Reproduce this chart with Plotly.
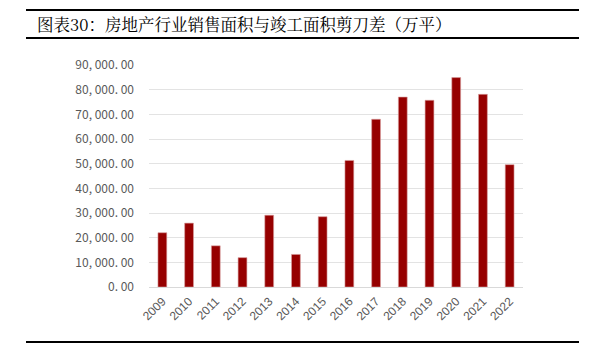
import plotly.graph_objects as go

years = ["2009", "2010", "2011", "2012", "2013", "2014", "2015",
         "2016", "2017", "2018", "2019", "2020", "2021", "2022"]
gap_values = [22000, 25900, 16700, 11900, 29100, 13200, 28500,
              51300, 68000, 77000, 75700, 84900, 78100, 49600]
y_tick_vals = [0, 10000, 20000, 30000, 40000, 50000, 60000, 70000, 80000, 90000]
y_tick_text = ["0. 00", "10, 000. 00", "20, 000. 00", "30, 000. 00", "40, 000. 00",
               "50, 000. 00", "60, 000. 00", "70, 000. 00", "80, 000. 00", "90, 000. 00"]
title_text = "图表30：房地产行业销售面积与竣工面积剪刀差（万平）"

# page body has an 8px default margin; work in window pixels and offset
OFF = 8
W, H = 599 - OFF, 357 - OFF
L, R, T, B = 149 - OFF, 599 - 523, 65 - OFF, 357 - 287
pw, ph = W - L - R, H - T - B

def px_x(x):
    return (x - OFF - L) / pw

def px_y(y):
    return (H - B - (y - OFF)) / ph

fig = go.Figure()
fig.add_trace(go.Bar(
    x=years, y=gap_values,
    marker=dict(color="#960000", line=dict(color="#d9a0a0", width=0.6)),
    width=0.33,
))

line_style = dict(color="#000000", width=2)
for yp in (10, 38, 342):
    fig.add_shape(type="line", xref="paper", yref="paper",
                  x0=px_x(26), x1=px_x(579), y0=px_y(yp), y1=px_y(yp),
                  line=line_style)

fig.add_annotation(
    text=title_text, xref="paper", yref="paper",
    x=px_x(35), y=px_y(24), xanchor="left", yanchor="middle",
    showarrow=False,
    font=dict(family="Noto Serif CJK SC, Noto Sans CJK SC, serif", size=16.5, color="#000000"),
)

fig.update_layout(
    width=W, height=H,
    margin=dict(l=L, r=R, t=T, b=B, autoexpand=False),
    paper_bgcolor="white", plot_bgcolor="white",
    showlegend=False,
    bargap=0.67,
    font=dict(family="Noto Sans CJK SC, DejaVu Sans, sans-serif", color="#595959"),
)
fig.update_xaxes(
    type="category", tickangle=-45,
    tickfont=dict(family="Liberation Sans, Arial, sans-serif", size=12, color="#595959"),
    showgrid=False, showline=False, ticks="", ticklen=0, automargin=False,
    ticklabelstandoff=4,
)
fig.update_yaxes(
    range=[0, 90000], tickvals=y_tick_vals, ticktext=y_tick_text,
    tickfont=dict(size=12, color="#595959"),
    showgrid=True, gridcolor="#e3e3e3", gridwidth=1,
    zeroline=True, zerolinecolor="#d9d9d9", zerolinewidth=1,
    ticks="", ticklabelstandoff=14, automargin=False,
)

fig.write_html("out.html")
